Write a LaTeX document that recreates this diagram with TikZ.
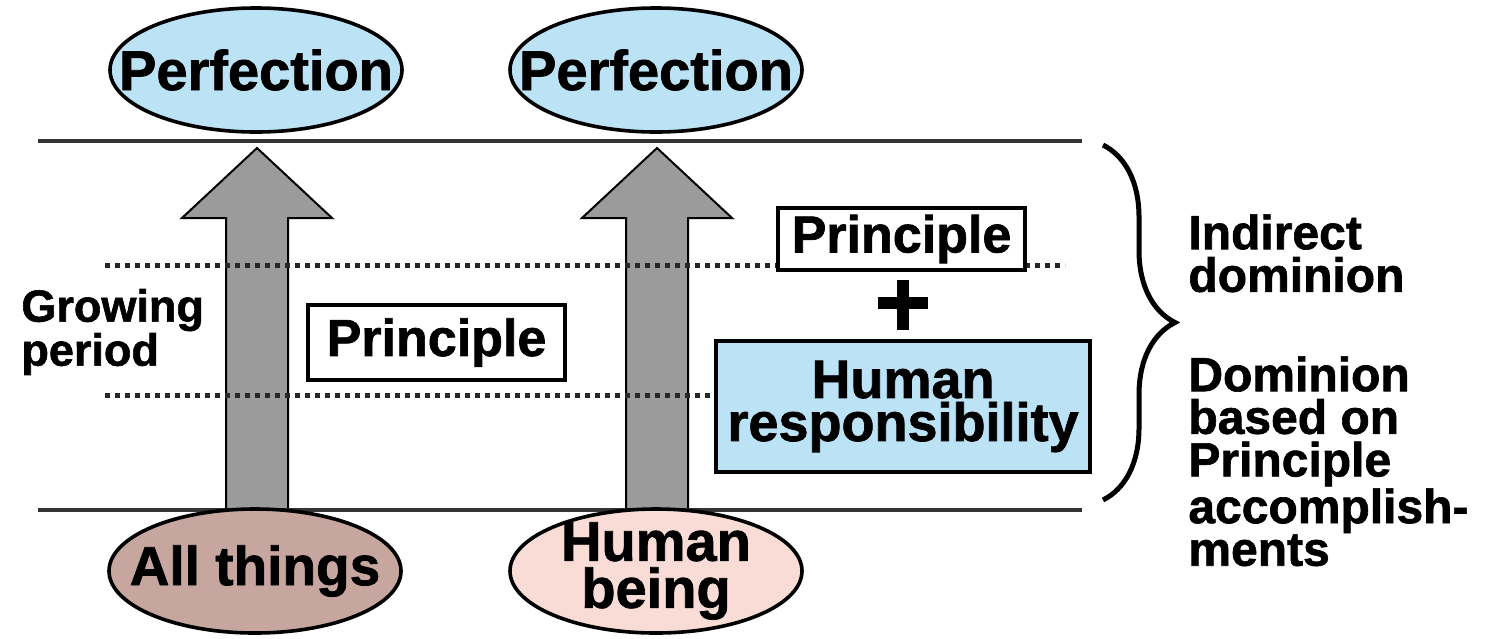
\documentclass[tikz,border=0pt]{standalone}
\usepackage{fontspec}
\setmainfont{Liberation Sans}[BoldFeatures={FakeBold=1.3}]
\usetikzlibrary{shapes.geometric,decorations.pathreplacing,calc}
\definecolor{skyb}{HTML}{BCE2F6}
\definecolor{thingc}{HTML}{C7A6A0}
\definecolor{humanc}{HTML}{F9DCD5}
\definecolor{arrowg}{HTML}{9B9B9B}
\definecolor{linec}{HTML}{333333}
\begin{document}
\begin{tikzpicture}[x=0.5pt,y=-0.5pt,
  oval/.style={ellipse,draw=black,line width=1.8pt,minimum width=146pt,minimum height=62pt,inner xsep=-40pt,inner ysep=-8pt,align=center,font=\bfseries\fontsize{27.5}{23.5}\selectfont},
  perf/.style={oval,fill=skyb,font=\bfseries\fontsize{28}{23}\selectfont},
  pbox/.style={draw=black,line width=2pt,fill=white,inner sep=0pt,font=\bfseries\fontsize{26}{22}\selectfont},
  hrbox/.style={draw=black,line width=2pt,fill=skyb,inner sep=0pt,align=center,minimum width=187pt,minimum height=65.5pt,font=\bfseries\fontsize{27}{21.5}\selectfont},
  bigarrow/.style={draw=black,line width=1pt,fill=arrowg,line join=miter},
  hline/.style={draw=linec,line width=2pt},
  dotline/.style={draw=black!85,line width=2.5pt,dash pattern=on 2.5pt off 2.5pt},
  sidetext/.style={anchor=north west,inner sep=0pt,align=left,font=\bfseries\fontsize{24}{21.3}\selectfont},
]
\useasboundingbox (0,0) rectangle (1491,638);
\fill[white] (0,0) rectangle (1491,638);

% arrows
\coordinate (b1) at (257,510);
\coordinate (t1) at (257,148);
\coordinate (b2) at (657,510);
\coordinate (t2) at (657,148);
\draw[bigarrow] ($(b1)+(-31,0)$) -- ($(b1)+(-31,-292)$) -- ($(b1)+(-75,-292)$) -- (t1) -- ($(b1)+(75,-292)$) -- ($(b1)+(31,-292)$) -- ($(b1)+(31,0)$) -- cycle;
\draw[bigarrow] ($(b2)+(-31,0)$) -- ($(b2)+(-31,-292)$) -- ($(b2)+(-75,-292)$) -- (t2) -- ($(b2)+(75,-292)$) -- ($(b2)+(31,-292)$) -- ($(b2)+(31,0)$) -- cycle;

% dotted lines
\coordinate (d1a) at (105,265);
\coordinate (d1b) at (1065,265);
\coordinate (d2a) at (105,395);
\coordinate (d2b) at (716,395);
\draw[dotline] (d1a) -- (d1b);
\draw[dotline] (d2a) -- (d2b);

% boxes
\node[pbox,minimum width=128.5pt,minimum height=37.5pt] (pr1) at (436.5,342.5) {Principle};
\node[pbox,minimum width=123.5pt,minimum height=31pt] (pr2) at (901.5,239) {Principle};
\node[hrbox] (hr) at (903,406.5) {Human\\responsibility};
\draw[line width=6pt] (878,303) -- (928,303);
\draw[line width=6pt] (903,280) -- (903,330);

% horizontal lines
\coordinate (l1a) at (38,141);
\coordinate (l1b) at (1082,141);
\coordinate (l2a) at (38,510);
\coordinate (l2b) at (1082,510);
\draw[hline] (l1a) -- (l1b);
\draw[hline] (l2a) -- (l2b);

% ellipses
\node[perf] (pf1) at (256,70) {Perfection};
\node[perf] (pf2) at (656,70) {Perfection};
\node[oval,fill=thingc] (all) at (255,571) {All things};
\node[oval,fill=humanc,font=\bfseries\fontsize{28}{23.5}\selectfont] (hum) at (656,571) {Human\\being};

% left label
\node[anchor=west,inner sep=0pt,align=left,font=\bfseries\fontsize{22.5}{22}\selectfont] (grow) at (21,332) {Growing\\period};

% brace
\coordinate (br1) at (1103,145);
\coordinate (br2) at (1103,500);
\draw[decorate,decoration={brace,amplitude=36pt,aspect=0.5},line width=2.5pt] (br1) -- (br2);

% right labels
\node[sidetext] (ind) at (1188,214) {Indirect\\dominion};
\node[sidetext] (dom) at (1188,356) {Dominion\\based on\\Principle\\accomplish-\\ments};
\end{tikzpicture}
\end{document}
